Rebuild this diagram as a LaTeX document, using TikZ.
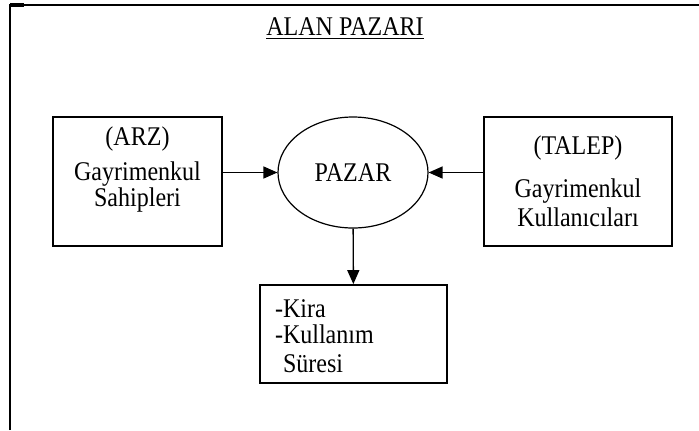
\documentclass[tikz,border=0pt]{standalone}
\usepackage{fontspec}
\setmainfont[FakeStretch=0.89]{Liberation Serif}
\usetikzlibrary{arrows.meta,positioning,shapes.geometric}
\tikzset{
  kutu/.style={draw,rectangle,line width=0.9pt,inner sep=0pt,align=center,
    font=\fontsize{13.5}{13}\selectfont},
  pazaryeri/.style={draw,ellipse,line width=0.6pt,inner sep=0pt,
    minimum width=75pt,minimum height=55.5pt,font=\fontsize{13.5}{13}\selectfont},
  baslik/.style={inner sep=0pt,font=\fontsize{13.5}{13}\selectfont}
}

\begin{document}
\begin{tikzpicture}[x=0.5pt,y=-0.5pt,>={Triangle[length=7pt,width=6pt]},line width=0.7pt]
  \useasboundingbox (0,0) rectangle (699,430);
  % cerceve
  \draw[line width=1.1pt] (10,430) -- (10,5) -- (699,5);
  \draw[line width=1.6pt] (10,5) -- (24,5);

  \node[baslik] (baslik) at (345,29) {\underline{ALAN PAZARI}};

  \node[pazaryeri] (pazar) at (353,172.5) {PAZAR};
  \node[kutu,minimum width=84.5pt,minimum height=64.5pt] (arz) at (137.5,181.5)
    {(ARZ)\\[4.5pt]Gayrimenkul\\Sahipleri\\[2pt]\mbox{}};
  \node[kutu,minimum width=94pt,minimum height=64.5pt] (talep) at (578,181.5)
    {(TALEP)\\[8.5pt]Gayrimenkul\\[1.5pt]Kullanıcıları};
  \node[kutu,align=left,text width=78.5pt,inner xsep=7.5pt,minimum height=49pt] (sonuc) at (353.5,334)
    {-Kira\\-Kullanım\\[1.5pt]\phantom{-}Süresi\\[-15pt]\mbox{}};

  \draw[->] (arz.east |- pazar.west) -- (pazar.west);
  \draw[->] (talep.west |- pazar.east) -- (pazar.east);
  \draw[->] (pazar) -- (sonuc);
\end{tikzpicture}
\end{document}
